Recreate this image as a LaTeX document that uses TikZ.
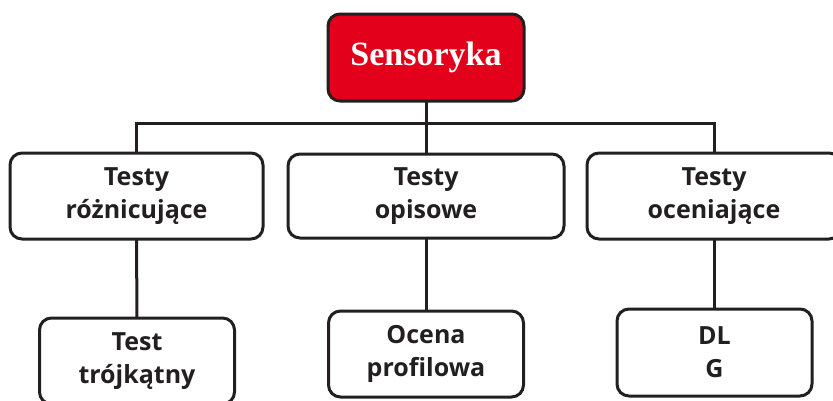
\documentclass[tikz,border=0pt]{standalone}
\usepackage{fontspec}
\newfontfamily\boxfont{Open Sans}
\newfontfamily\titlefont{Liberation Serif}
\definecolor{ink}{HTML}{231F20}
\definecolor{sensred}{HTML}{E2001A}
\begin{document}
\begin{tikzpicture}[x=1pt,y=-1pt,
  box/.style={draw=ink, line width=3pt, rounded corners=12pt, fill=white,
    inner sep=0pt, outer sep=0pt, align=center, text=ink,
    font=\boxfont\bfseries\fontsize{25}{33}\selectfont},
  titlebox/.style={box, fill=sensred, text=white,
    font=\titlefont\bfseries\fontsize{34}{40}\selectfont},
  conn/.style={draw=ink, line width=3pt}]
\useasboundingbox (0,0) rectangle (833,400);
\node[titlebox, minimum width=196pt, minimum height=87pt] (sens) at (426,57.5) {Sensoryka};
\node[box, minimum width=253pt, minimum height=86pt] (l1) at (136.5,196) {Testy\\różnicujące};
\node[box, minimum width=276pt, minimum height=84pt] (m1) at (426,196) {Testy\\opisowe};
\node[box, minimum width=254pt, minimum height=86pt] (r1) at (714,196) {Testy\\oceniające};
\node[box, minimum width=195pt, minimum height=86pt] (l2) at (137,361) {Test\\trójkątny};
\node[box, minimum width=195pt, minimum height=86pt] (m2) at (426,354) {Ocena\\profilowa};
\node[box, minimum width=195pt, minimum height=87pt] (r2) at (714.5,352.5) {DL\\G};
\coordinate (bar) at (426,123);
\draw[conn] (sens.south) -- (bar);
\draw[conn] (l1.north) |- (bar);
\draw[conn] (bar) -| (r1.north);
\draw[conn] (bar) -- (m1.north);
\draw[conn] (l1.south) -- (l2.north);
\draw[conn] (m1.south) -- (m2.north);
\draw[conn] (r1.south) -- (r2.north -| r1.south);
\end{tikzpicture}
\end{document}
